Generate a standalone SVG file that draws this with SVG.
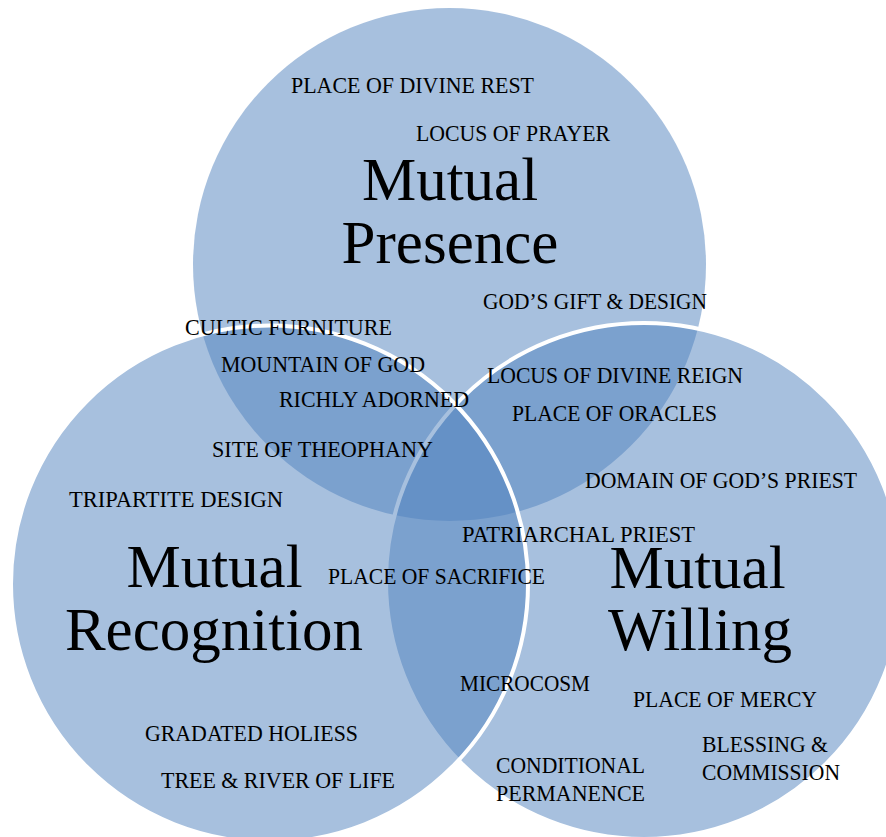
<svg xmlns="http://www.w3.org/2000/svg" width="886" height="837" viewBox="0 0 886 837">
  <style>
    .disc { fill: #4F81BD; fill-opacity: 0.5; }
    .rim { stroke: #FFFFFF; stroke-width: 4; }
    .title { font-family: "Liberation Serif", "Times New Roman", serif; font-size: 61px; fill: #000000; text-anchor: middle; }
    .item { font-family: "Liberation Serif", "Times New Roman", serif; font-size: 23px; fill: #000000; }
  </style>
  <rect width="886" height="837" fill="#FFFFFF"/>

  <!-- three overlapping discs: top, right, left -->
  <g id="presence">
    <circle class="disc" cx="449.5" cy="264.5" r="256.5"/>
  </g>
  <g id="willing">
    <circle class="disc rim" cx="644" cy="581" r="258"/>
  </g>
  <g id="recognition">
    <circle class="disc rim" cx="269.5" cy="584" r="258.5"/>
  </g>

  <!-- circle titles -->
  <g id="presence-title">
    <text class="title" x="450" y="200">Mutual</text>
    <text class="title" x="450" y="263">Presence</text>
  </g>
  <g id="recognition-title">
    <text class="title" x="214.5" y="587">Mutual</text>
    <text class="title" x="214" y="650">Recognition</text>
  </g>
  <g id="willing-title">
    <text class="title" x="697.5" y="588">Mutual</text>
    <text class="title" x="700" y="650">Willing</text>
  </g>

  <!-- attribute labels -->
  <g id="labels">
    <text class="item" x="291" y="93" textLength="243" lengthAdjust="spacingAndGlyphs">PLACE OF DIVINE REST</text>
    <text class="item" x="416" y="141" textLength="194" lengthAdjust="spacingAndGlyphs">LOCUS OF PRAYER</text>
    <text class="item" x="483" y="309" textLength="224" lengthAdjust="spacingAndGlyphs">GOD’S GIFT &amp; DESIGN</text>
    <text class="item" x="185" y="335" textLength="207" lengthAdjust="spacingAndGlyphs">CULTIC FURNITURE</text>
    <text class="item" x="221" y="372" textLength="204" lengthAdjust="spacingAndGlyphs">MOUNTAIN OF GOD</text>
    <text class="item" x="279" y="407" textLength="190" lengthAdjust="spacingAndGlyphs">RICHLY ADORNED</text>
    <text class="item" x="487" y="383" textLength="256" lengthAdjust="spacingAndGlyphs">LOCUS OF DIVINE REIGN</text>
    <text class="item" x="512" y="421" textLength="205" lengthAdjust="spacingAndGlyphs">PLACE OF ORACLES</text>
    <text class="item" x="212" y="457" textLength="221" lengthAdjust="spacingAndGlyphs">SITE OF THEOPHANY</text>
    <text class="item" x="585" y="488" textLength="272" lengthAdjust="spacingAndGlyphs">DOMAIN OF GOD’S PRIEST</text>
    <text class="item" x="69" y="507" textLength="214" lengthAdjust="spacingAndGlyphs">TRIPARTITE DESIGN</text>
    <text class="item" x="462" y="542" textLength="233" lengthAdjust="spacingAndGlyphs">PATRIARCHAL PRIEST</text>
    <text class="item" x="328" y="584" textLength="217" lengthAdjust="spacingAndGlyphs">PLACE OF SACRIFICE</text>
    <text class="item" x="460" y="691" textLength="130" lengthAdjust="spacingAndGlyphs">MICROCOSM</text>
    <text class="item" x="633" y="707" textLength="184" lengthAdjust="spacingAndGlyphs">PLACE OF MERCY</text>
    <text class="item" x="145" y="741" textLength="213" lengthAdjust="spacingAndGlyphs">GRADATED HOLIESS</text>
    <text class="item" x="702" y="752" textLength="126" lengthAdjust="spacingAndGlyphs">BLESSING &amp;</text>
    <text class="item" x="702" y="780" textLength="138" lengthAdjust="spacingAndGlyphs">COMMISSION</text>
    <text class="item" x="161" y="788" textLength="234" lengthAdjust="spacingAndGlyphs">TREE &amp; RIVER OF LIFE</text>
    <text class="item" x="496" y="773" textLength="149" lengthAdjust="spacingAndGlyphs">CONDITIONAL</text>
    <text class="item" x="496" y="801" textLength="149" lengthAdjust="spacingAndGlyphs">PERMANENCE</text>
  </g>
</svg>
